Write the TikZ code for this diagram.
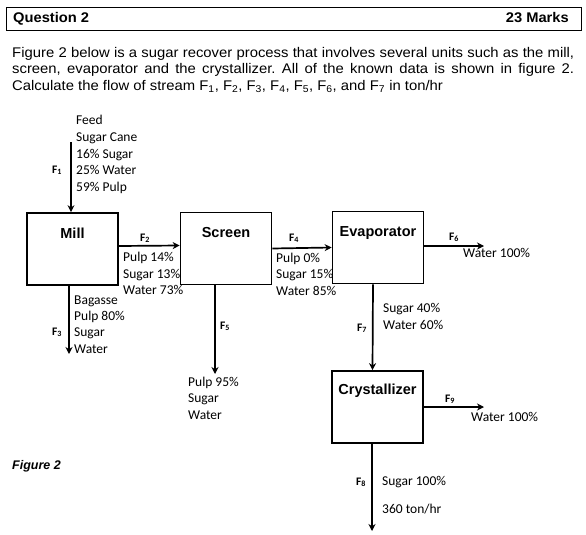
\documentclass[tikz,border=0pt]{standalone}
\usepackage{fontspec}
\setmainfont{Liberation Sans}
\newfontfamily\calfont{Carlito}
\newfontfamily\parafont[FakeStretch=1.06]{Liberation Sans}
\newfontfamily\hdrfont[FakeStretch=1.05]{Liberation Sans}
\usetikzlibrary{arrows.meta}
\begin{document}
\frenchspacing
\begin{tikzpicture}[x=1pt,y=-1pt,
  unit/.style={draw, line width=1.7pt, minimum width=91pt, minimum height=72pt, inner sep=0pt},
  unitlabel/.style={font=\fontsize{14.5}{16}\selectfont\bfseries, anchor=base, inner sep=0pt},
  flow/.style={line width=1.7pt, -{Stealth[length=7pt,width=7pt]}},
  txt/.style={font=\calfont\fontsize{13.5}{15}\selectfont, anchor=base west, inner sep=0pt},
  fl/.style={font=\calfont\bfseries\fontsize{11.5}{13}\selectfont, anchor=base, inner sep=0pt},
  hdrtxt/.style={font=\hdrfont\fontsize{14}{16}\selectfont\bfseries, inner sep=0pt}]
\useasboundingbox (0,0) rectangle (586,535);

% header
\node[draw, line width=1.1pt, minimum width=575pt, minimum height=23pt, anchor=north west, inner sep=0pt] (hdr) at (6,7) {};
\node[hdrtxt, anchor=base west] (q) at (13,23) {Question 2};
\node[hdrtxt, anchor=base east] (m) at (569,23) {23 Marks};

% paragraph
\node[anchor=north west, inner sep=0pt, text width=562pt, align=justify,
  font=\parafont\fontsize{14}{16.6}\selectfont] (para) at (12,46.8)
  {Figure 2 below is a sugar recover process that involves several units such as the mill,\linebreak
   screen, evaporator and the crystallizer. All of the known data is shown in figure 2.\linebreak
   Calculate the flow of stream F\textsubscript{1}, F\textsubscript{2}, F\textsubscript{3}, F\textsubscript{4}, F\textsubscript{5}, F\textsubscript{6}, and F\textsubscript{7} in ton/hr};

% units
\node[unit] (mill) at (72.5,249) {};
\node[unit] (screen) at (226,248.5) {};
\node[unit] (evap) at (378,247.5) {};
\node[unit] (crys) at (377.5,407) {};
\node[unitlabel] (milll) at (72.5,238) {Mill};
\node[unitlabel] (screenl) at (226,237.5) {Screen};
\node[unitlabel] (evapl) at (378,236.5) {Evaporator};
\node[unitlabel] (crysl) at (377.5,394.5) {Crystallizer};

% free ends
\coordinate (f1s) at (71,142);
\coordinate (f3e) at (69,354);
\coordinate (f5e) at (215,374);
\coordinate (f6e) at (484,246);
\coordinate (f9e) at (484,407);
\coordinate (f8e) at (372,531);

% flows
\draw[flow] (f1s) -- (f1s |- mill.north);
\draw[flow] ([yshift=3pt]mill.east) -- ([yshift=3pt]screen.west);
\draw[flow] (f3e |- mill.south) -- (f3e);
\draw[flow] (f5e |- screen.south) -- (f5e);
\draw[flow] (screen.east) -- (evap.west);
\draw[flow] ([yshift=1.5pt]evap.east) -- (f6e);
\draw[flow] ([xshift=-5pt]evap.south) -- ([xshift=-5pt]crys.north);
\draw[flow] (crys.east) -- (f9e);
\draw[flow] (f8e |- crys.south) -- (f8e);

% feed text
\node[txt] (t1) at (76,124.5) {Feed};
\node[txt] (t2) at (76,141.5) {Sugar Cane};
\node[txt] (t3) at (76,158.5) {16\% Sugar};
\node[txt] (t4) at (76,174.5) {25\% Water};
\node[txt] (t5) at (76,191.5) {59\% Pulp};
\node[fl] (lf1) at (57,173) {F\textsubscript{1}};

% F2
\node[fl] (lf2) at (145,241) {F\textsubscript{2}};
\node[txt] (t6) at (123,261.5) {Pulp 14\%};
\node[txt] (t7) at (123,278.5) {Sugar 13\%};
\node[txt] (t8) at (123,294.5) {Water 73\%};

% F3
\node[fl] (lf3) at (57,335) {F\textsubscript{3}};
\node[txt] (t9) at (74,304.5) {Bagasse};
\node[txt] (t10) at (74,320.5) {Pulp 80\%};
\node[txt] (t11) at (74,336.5) {Sugar};
\node[txt] (t12) at (74,353.5) {Water};

% F5
\node[fl] (lf5) at (225,329) {F\textsubscript{5}};
\node[txt] (t13) at (188,386.5) {Pulp 95\%};
\node[txt] (t14) at (188,402.5) {Sugar};
\node[txt] (t15) at (188,419.5) {Water};

% F4
\node[fl] (lf4) at (294,241) {F\textsubscript{4}};
\node[txt] (t16) at (276,262.5) {Pulp 0\%};
\node[txt] (t17) at (276,278.5) {Sugar 15\%};
\node[txt] (t18) at (276,295.5) {Water 85\%};

% F6
\node[fl] (lf6) at (454,240) {F\textsubscript{6}};
\node[txt] (t19) at (463,257.5) {Water 100\%};

% F7
\node[fl] (lf7) at (362,331) {F\textsubscript{7}};
\node[txt] (t20) at (383,312.5) {Sugar 40\%};
\node[txt] (t21) at (383,329.5) {Water 60\%};

% F9
\node[fl] (lf9) at (450,402) {F\textsubscript{9}};
\node[txt] (t22) at (471,421.5) {Water 100\%};

% F8
\node[fl] (lf8) at (361,485) {F\textsubscript{8}};
\node[txt] (t23) at (382,485.5) {Sugar 100\%};
\node[txt] (t24) at (382,513.5) {360 ton/hr};

% figure caption
\node[anchor=base west, inner sep=0pt, font=\fontsize{12.5}{14}\selectfont\bfseries\itshape] (fig) at (12,469) {Figure 2};
\end{tikzpicture}
\end{document}
